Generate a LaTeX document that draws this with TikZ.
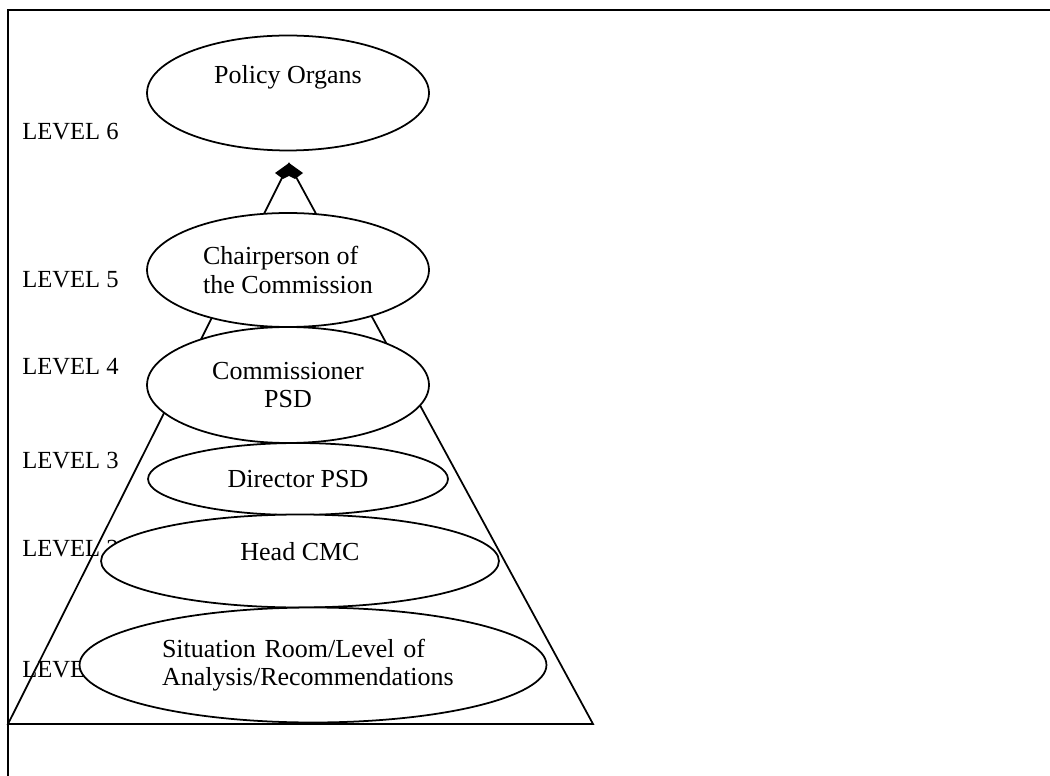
\documentclass[tikz,border=0pt]{standalone}
\usepackage{fontspec}
\setmainfont{Liberation Serif}
\usetikzlibrary{shapes.geometric}
\tikzstyle{level}=[anchor=west,inner sep=0pt,font=\fontsize{14}{16}\selectfont]
\tikzstyle{organ}=[ellipse,draw,fill=white,line width=1pt,inner sep=0pt,align=center]
\tikzstyle{side}=[line width=1pt]

\begin{document}
\begin{tikzpicture}[x=0.02cm,y=-0.02cm,font=\fontsize{14.8}{16}\selectfont]

   \useasboundingbox (0,0) rectangle (1050,776);
   \draw[line width=1pt] (1050,10) -- (8,10) -- (8,776);

    \foreach \y/\n in {132/6, 280/5, 367/4, 461/3, 549/2, 670/1}
        \node[level] (level\n) at (22,\y) {LEVEL \n};

  % the pyramid
  \coordinate (apex) at (289,164);
  \coordinate (baseleft) at (8,724);
  \coordinate (baseright) at (593,724);
  \draw[side] (baseleft) -- (apex) -- (baseright) -- cycle;
  \fill (apex) ++(0,-1) -- ++(-14,10) -- ++(8,6) -- ++(6,-3) -- ++(6,3) -- ++(8,-6) -- cycle;

  \node[organ,minimum width=5.64cm,minimum height=2.3cm,text height=0.37cm,text depth=0.75cm] (policy) at (288,93) {Policy Organs};
  \node[organ,minimum width=5.64cm,minimum height=2.28cm,align=left] (chair) at (288,270) {Chairperson of\\the Commission};
  \node[organ,minimum width=5.64cm,minimum height=2.32cm] (commissioner) at (288,385) {Commissioner\\PSD};
  \node[organ,minimum width=6.0cm,minimum height=1.44cm] (director) at (298,479) {Director PSD};
  \node[organ,minimum width=7.96cm,minimum height=1.86cm,text height=0.37cm,text depth=0.39cm] (head) at (300,561) {Head CMC};
  \node[organ,minimum width=9.34cm,minimum height=2.3cm,text width=6.04cm,align=left] (room) at (313,665) {Situation Room/Level of\\Analysis/Recommendations};

\end{tikzpicture}
\end{document}
